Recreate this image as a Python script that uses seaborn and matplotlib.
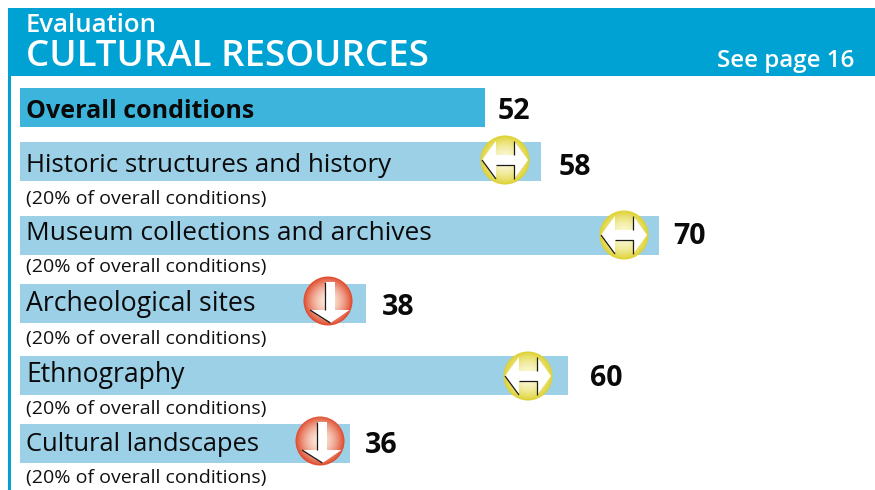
import seaborn as sns
import pandas as pd
import numpy as np
import matplotlib.pyplot as plt
from matplotlib.colors import to_rgb
from matplotlib.patches import Circle, Polygon, Rectangle

sns.set_theme(style="white")
plt.rcParams['font.family'] = ['Open Sans', 'DejaVu Sans']

W, H = 875, 490

# the data
categories = ["Overall conditions", "Historic structures and history", "Museum collections and archives",
              "Archeological sites", "Ethnography", "Cultural landscapes"]
scores = [52, 58, 70, 38, 60, 36]
# the printed bars are not quite to scale, so lengths are read off separately
bar_lengths = [50.9, 57.1, 70.0, 37.9, 60.0, 36.1]
trends = [None, "same", "same", "down", "same", "down"]
note = "(20% of overall conditions)"

# layout in pixels
row_y = [107.5, 161.5, 235.5, 303.5, 375.5, 443.5]
label_base = [118, 172, 240, 311, 382, 451]
label_size = [18, 18.6, 18.9, 19.2, 19.1, 18.4]
note_base = [None, 204, 272, 344, 414, 483]
score_x = [498, 559, 673, 382, 590, 365]
score_base = [119, 175, 244, 315, 386, 453]
icon_x = [None, 505, 624, 328, 528, 320]
icon_y = [None, 160, 235, 301, 376, 441]
px_per_unit = 9.13
left_px = 20

BLUE = "#00A2D3"
BAR_DARK = "#3DB4DB"
BAR_LIGHT = "#9CD0E7"


def fx(x):
    return x / W


def fy(y):
    return 1 - y / H


def draw_icon(cx, cy, kind):
    r = 25
    box = fig.add_axes([fx(cx - r), fy(cy + r), 2 * r / W, 2 * r / H])
    box.set_xlim(-r, r)
    box.set_ylim(r, -r)
    box.axis("off")
    edge = "#DDD02C" if kind == "same" else "#DE4526"
    inner = "#FBF9D8" if kind == "same" else "#FBE8DA"
    g = np.linspace(-r, r, 100)
    xx, yy = np.meshgrid(g, g)
    t = np.clip(np.hypot(xx, yy) / r, 0, 1)[..., None] ** 1.8
    img = np.array(to_rgb(inner)) * (1 - t) + np.array(to_rgb(edge)) * t
    im = box.imshow(img, extent=(-r, r, r, -r), interpolation="bilinear", aspect="auto")
    im.set_clip_path(Circle((0, 0), 24.5, transform=box.transData))
    if kind == "same":
        pts = [(-23, 0), (-9, -19), (-9, -5), (9, -5), (9, -19), (23, 0), (9, 19), (9, 5), (-9, 5), (-9, 19)]
        shadow = [[(-23, 0), (-9, 19)], [(-9, 5), (9, 5), (9, 19)], [(9, -19), (9, -5)]]
    else:
        pts = [(-3, -19), (7, -19), (7, 9), (21.5, 9), (2.5, 22), (-18, 9), (-3, 9)]
        shadow = [[(-3, -19), (-3, 9)], [(-18, 9), (2.5, 22)]]
    box.add_patch(Polygon(pts, closed=True, fc="white", ec="none"))
    for line in shadow:
        box.plot(*zip(*line), color="#1A1A1A", lw=0.9, solid_capstyle="butt")


fig = plt.figure(figsize=(W / 100, H / 100), dpi=100, facecolor="white")
ax = fig.add_axes([0, 0, 1, 1])

df = pd.DataFrame({"length": bar_lengths, "row": row_y, "category": categories})
colors = [BAR_DARK] + [BAR_LIGHT] * 5
sns.barplot(data=df, x="length", y="row", hue="category", palette=colors, orient="y",
            native_scale=True, width=39 / 54, dodge=False, legend=False, saturation=1,
            linewidth=0, ax=ax)
ax.set_xlim(-left_px / px_per_unit, (W - left_px) / px_per_unit)
ax.set_ylim(H, 0)
ax.axis("off")

# header band and the rule going down the left side
fig.add_artist(Rectangle((fx(8), fy(76)), (W - 8) / W, 68 / H, transform=fig.transFigure, fc=BLUE, ec="none"))
fig.add_artist(Rectangle((fx(8), 0), 3 / W, fy(76), transform=fig.transFigure, fc=BLUE, ec="none"))
fig.text(fx(26), fy(32), "Evaluation", color="white", fontsize=18.5, fontweight="semibold", va="baseline")
fig.text(fx(26), fy(66), "CULTURAL RESOURCES", color="white", fontsize=26.5, fontweight="semibold", va="baseline")
fig.text(fx(854), fy(67), "See page 16", color="white", fontsize=17.4, fontweight="semibold", ha="right", va="baseline")

for i, name in enumerate(categories):
    weight = "bold" if i == 0 else "normal"
    fig.text(fx(26), fy(label_base[i]), name, color="#0A0A0A", fontsize=label_size[i], fontweight=weight, va="baseline")
    fig.text(fx(score_x[i]), fy(score_base[i]), str(scores[i]), color="#0A0A0A", fontsize=20.5,
             fontweight="bold", va="baseline")
    if i > 0:
        fig.text(fx(26), fy(note_base[i]), note, color="#111111", fontsize=14, va="baseline")
    if trends[i]:
        draw_icon(icon_x[i], icon_y[i], trends[i])

fig.savefig("out.png", dpi=100)
